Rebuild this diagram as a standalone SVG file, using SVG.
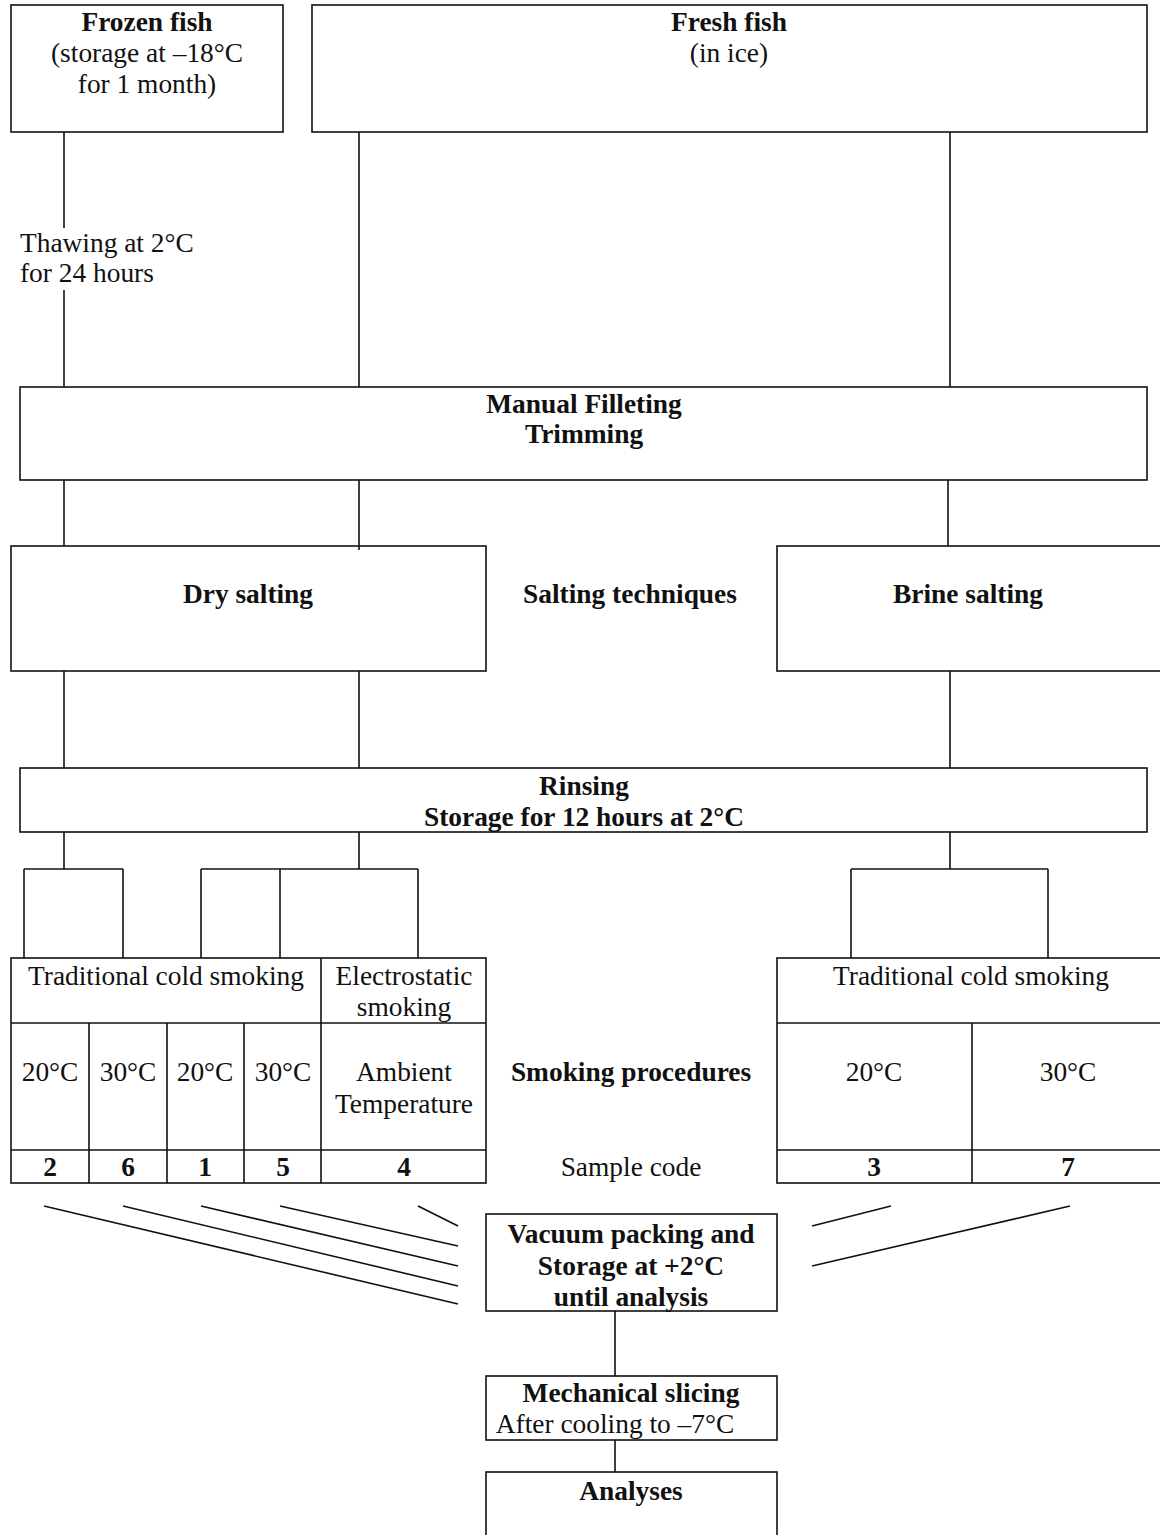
<svg xmlns="http://www.w3.org/2000/svg" width="1160" height="1535" viewBox="0 0 1160 1535">
<style>
rect,line{fill:none;stroke:#111;stroke-width:1.6}
text{font-family:"Liberation Serif","Times New Roman",serif;font-size:27.4px;fill:#111}
.b{font-weight:bold}
.c{text-anchor:middle}
</style>
<rect x="0" y="0" width="1160" height="1535" fill="#fff" style="fill:#fff;stroke:none"/>
<g id="connectors">
<line x1="64" y1="132" x2="64" y2="228"/>
<line x1="64" y1="290" x2="64" y2="387"/>
<line x1="359" y1="132" x2="359" y2="387"/>
<line x1="950" y1="132" x2="950" y2="387"/>
<line x1="64" y1="480" x2="64" y2="546"/>
<line x1="359" y1="480" x2="359" y2="550"/>
<line x1="948" y1="480" x2="948" y2="546"/>
<line x1="64" y1="671" x2="64" y2="768"/>
<line x1="359" y1="671" x2="359" y2="768"/>
<line x1="950" y1="671" x2="950" y2="768"/>
<line x1="64" y1="832" x2="64" y2="869"/>
<line x1="359" y1="832" x2="359" y2="869"/>
<line x1="950" y1="832" x2="950" y2="869"/>
<line x1="24" y1="869" x2="123" y2="869"/>
<line x1="24" y1="869" x2="24" y2="958"/>
<line x1="123" y1="869" x2="123" y2="958"/>
<line x1="201" y1="869" x2="418" y2="869"/>
<line x1="201" y1="869" x2="201" y2="958"/>
<line x1="280" y1="869" x2="280" y2="958"/>
<line x1="418" y1="869" x2="418" y2="958"/>
<line x1="851" y1="869" x2="1048" y2="869"/>
<line x1="851" y1="869" x2="851" y2="958"/>
<line x1="1048" y1="869" x2="1048" y2="958"/>
<line x1="44" y1="1206" x2="458" y2="1304"/>
<line x1="123" y1="1206" x2="458" y2="1286"/>
<line x1="201" y1="1206" x2="458" y2="1266"/>
<line x1="280" y1="1206" x2="458" y2="1246"/>
<line x1="418" y1="1206" x2="458" y2="1226"/>
<line x1="891" y1="1206" x2="812" y2="1226"/>
<line x1="1070" y1="1206" x2="812" y2="1266"/>
<line x1="615" y1="1311" x2="615" y2="1376"/>
<line x1="615" y1="1440" x2="615" y2="1472"/>
</g>
<g id="frozen">
<rect x="11" y="5" width="272" height="127"/>
<text class="c b" x="147" y="31">Frozen fish</text>
<text class="c" x="147" y="62">(storage  at –18°C</text>
<text class="c" x="147" y="93">for 1 month)</text>
</g>
<g id="fresh">
<rect x="312" y="5" width="835" height="127"/>
<text class="c b" x="729" y="31">Fresh fish</text>
<text class="c" x="729" y="62">(in ice)</text>
</g>
<g id="thawing">
<text x="20" y="252">Thawing at 2°C</text>
<text x="20" y="282">for 24 hours</text>
</g>
<g id="filleting">
<rect x="20" y="387" width="1127" height="93"/>
<text class="c b" x="584" y="413">Manual Filleting</text>
<text class="c b" x="584" y="443">Trimming</text>
</g>
<g id="dry">
<rect x="11" y="546" width="475" height="125"/>
<text class="c b" x="248" y="603">Dry salting</text>
</g>
<g id="salting-label">
<text class="c b" x="630" y="603">Salting techniques</text>
</g>
<g id="brine">
<rect x="777" y="546" width="390" height="125"/>
<text class="c b" x="968" y="603">Brine salting</text>
</g>
<g id="rinsing">
<rect x="20" y="768" width="1127" height="64"/>
<text class="c b" x="584" y="795">Rinsing</text>
<text class="c b" x="584" y="826">Storage for 12 hours at 2°C</text>
</g>
<g id="smoking-left">
<rect x="11" y="958" width="475" height="225"/>
<line x1="11" y1="1023" x2="486" y2="1023"/>
<line x1="11" y1="1150" x2="486" y2="1150"/>
<line x1="321" y1="958" x2="321" y2="1183"/>
<line x1="89" y1="1023" x2="89" y2="1183"/>
<line x1="167" y1="1023" x2="167" y2="1183"/>
<line x1="244" y1="1023" x2="244" y2="1183"/>
<text class="c" x="166" y="985">Traditional cold smoking</text>
<text class="c" x="404" y="985">Electrostatic</text>
<text class="c" x="404" y="1016">smoking</text>
<text class="c" x="50" y="1081">20°C</text>
<text class="c" x="128" y="1081">30°C</text>
<text class="c" x="205" y="1081">20°C</text>
<text class="c" x="283" y="1081">30°C</text>
<text class="c" x="404" y="1081">Ambient</text>
<text class="c" x="404" y="1113">Temperature</text>
<text class="c b" x="50" y="1176">2</text>
<text class="c b" x="128" y="1176">6</text>
<text class="c b" x="205" y="1176">1</text>
<text class="c b" x="283" y="1176">5</text>
<text class="c b" x="404" y="1176">4</text>
</g>
<g id="smoking-label">
<text class="c b" x="631" y="1081">Smoking procedures</text>
<text class="c" x="631" y="1176">Sample code</text>
</g>
<g id="smoking-right">
<rect x="777" y="958" width="390" height="225"/>
<line x1="777" y1="1023" x2="1160" y2="1023"/>
<line x1="777" y1="1150" x2="1160" y2="1150"/>
<line x1="972" y1="1023" x2="972" y2="1183"/>
<text class="c" x="971" y="985">Traditional cold smoking</text>
<text class="c" x="874" y="1081">20°C</text>
<text class="c" x="1068" y="1081">30°C</text>
<text class="c b" x="874" y="1176">3</text>
<text class="c b" x="1068" y="1176">7</text>
</g>
<g id="vacuum">
<rect x="486" y="1214" width="291" height="97"/>
<text class="c b" x="631" y="1243">Vacuum packing and</text>
<text class="c b" x="631" y="1275">Storage at +2°C</text>
<text class="c b" x="631" y="1306">until analysis</text>
</g>
<g id="slicing">
<rect x="486" y="1376" width="291" height="64"/>
<text class="c b" x="631" y="1402">Mechanical slicing</text>
<text class="c" x="615" y="1433">After cooling to –7°C</text>
</g>
<g id="analyses">
<rect x="486" y="1472" width="291" height="70"/>
<text class="c b" x="631" y="1500">Analyses</text>
</g>
</svg>
